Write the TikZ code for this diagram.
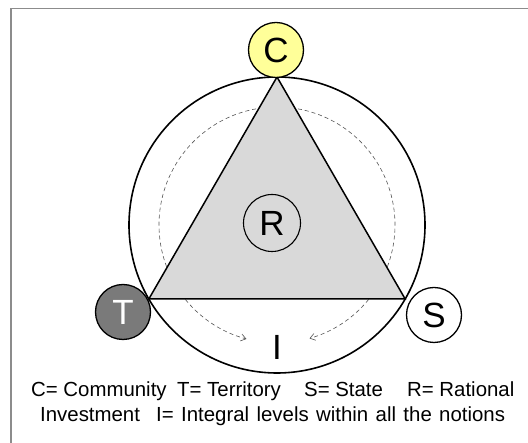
\documentclass[tikz,border=0pt]{standalone}
\usepackage{fontspec}
\setmainfont{Liberation Sans}
\usetikzlibrary{arrows.meta,calc}
\definecolor{framegray}{HTML}{8C8C8C}
\definecolor{trifill}{HTML}{D9D9D9}
\definecolor{cyellow}{HTML}{FFFF99}
\definecolor{tgray}{HTML}{7A7A7A}
\definecolor{dashgray}{HTML}{555555}
\newcommand\legendfont{\fontsize{20.4}{24}\selectfont}
\newcommand\widespaces{\spaceskip=7.4pt plus 2pt minus 1pt\relax}
\tikzset{
  bigletter/.style={font=\fontsize{35}{40}\selectfont},
  corner/.style={circle, draw=black, line width=1.3pt, minimum size=55pt, inner sep=0pt, bigletter},
  cycle arc/.style={draw=dashgray, line width=0.6pt, dash pattern=on 4pt off 3pt, -{Straight Barb[length=5pt,width=7pt]}},
  legend/.style={font=\legendfont, anchor=base west, inner sep=0pt}
}
\begin{document}
\begin{tikzpicture}[x=1pt,y=1pt]
  \useasboundingbox (0,0) rectangle (528,443);
  % frame lines (top and left)
  \draw[framegray, line width=1.5pt] (11,0) -- (11,434.5) -- (528,434.5);

  % centre of the outer circle
  \coordinate (O) at (277,218);

  % dashed cycle, under the triangle
  \draw[cycle arc] ($(O)+(90:118)$) arc[start angle=90, end angle=255, radius=118];
  \draw[cycle arc] ($(O)+(90:118)$) arc[start angle=90, end angle=-74, radius=118];

  % outer circle
  \draw[line width=1.6pt] (O) circle[radius=148];

  % triangle
  \coordinate (A) at ($(O)+(90:148)$);
  \coordinate (B) at ($(O)+(210:148)$);
  \coordinate (D) at ($(O)+(330:148)$);
  \filldraw[fill=trifill, draw=black, line width=1.5pt, line join=miter] (A) -- (B) -- (D) -- cycle;

  % corner nodes
  \node[corner, fill=cyellow] (C) at (276,393) {C};
  \node[corner, fill=tgray, text=white] (T) at (123,131) {T};
  \node[corner, fill=white] (S) at (434,128) {S};
  \node[corner, fill=none, line width=1.1pt, minimum size=57pt] (R) at (272,220) {R};
  \node[bigletter] (I) at (277,96) {I};

  % legend, first line
  \node[legend] (LC) at (31,46) {C= Community};
  \node[legend] (LT) at (177,46) {T= Territory};
  \node[legend] (LS) at (304,46) {S= State};
  \node[legend] (LR) at (407,46) {R= Rational};
  % legend, second line
  \node[legend] (LInv) at (40,21) {Investment};
  \node[legend] (LI) at (156,21) {\widespaces I= Integral levels within all the notions};
\end{tikzpicture}
\end{document}
